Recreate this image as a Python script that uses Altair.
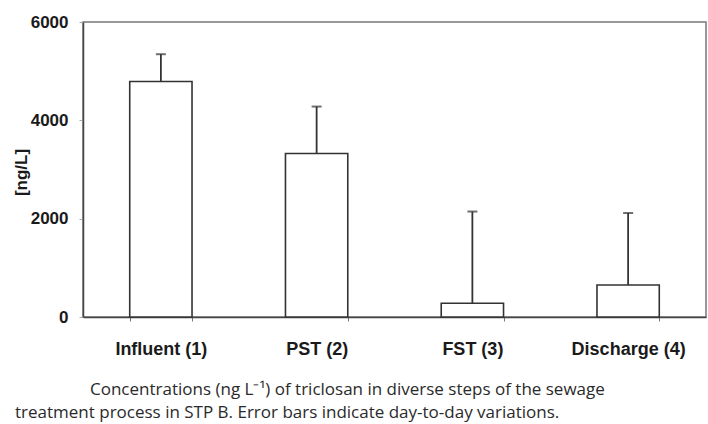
import altair as alt
import pandas as pd

# Triclosan concentrations along the sewage treatment steps (ng/L)
steps = ["Influent (1)", "PST (2)", "FST (3)", "Discharge (4)"]
means = [4790, 3325, 280, 650]
upper = [5345, 4280, 2145, 2115]

caption_1 = "Concentrations (ng L\u207b\u00b9) of triclosan in diverse steps of the sewage"
caption_2 = "treatment process in STP B. Error bars indicate day-to-day variations."

df = pd.DataFrame({"step": steps, "mean": means, "upper": upper})

x_enc = alt.X(
    "step:N",
    sort=steps,
    title=None,
    scale=alt.Scale(paddingInner=0.6, paddingOuter=0.3),
    axis=alt.Axis(
        labelAngle=0,
        labelFont="Liberation Sans",
        labelFontWeight="bold",
        labelFontSize=18,
        labelColor="#1a1a1a",
        labelPadding=19,
        tickBand="extent",
        tickSize=4,
        tickColor="#777",
        domainColor="#444",
        domainWidth=1.5,
    ),
)

y_scale = alt.Scale(domain=[0, 6000], nice=False)
y_axis = alt.Axis(
    values=[0, 2000, 4000, 6000],
    format="d",
    grid=False,
    labelFont="Liberation Sans",
    labelFontWeight="bold",
    labelFontSize=17,
    labelColor="#1a1a1a",
    labelPadding=11,
    tickSize=4,
    tickColor="#aaa",
    domainColor="#444",
    domainWidth=1.5,
    title="[ng/L]",
    titleFont="Liberation Sans",
    titleFontWeight="bold",
    titleFontSize=17,
    titleColor="#1a1a1a",
    titleAngle=-90,
    titleX=-62,
    titleY=150,
    titleAlign="center",
    titleBaseline="middle",
)

base = alt.Chart(df)

bars = base.mark_bar(fill="white", stroke="#333", strokeWidth=1.6).encode(
    x=x_enc,
    y=alt.Y("mean:Q", scale=y_scale, axis=y_axis),
)

whiskers = base.mark_rule(color="#333", strokeWidth=1.8).encode(
    x=alt.X("step:N", sort=steps),
    y=alt.Y("mean:Q"),
    y2="upper:Q",
)

caps = base.mark_tick(color="#333", thickness=2, size=10, orient="horizontal").encode(
    x=alt.X("step:N", sort=steps),
    y=alt.Y("upper:Q"),
)

caption_style = dict(
    align="left",
    baseline="alphabetic",
    font="Open Sans",
    fontSize=17,
    color="#2a2a2a",
)

line_1 = alt.Chart(pd.DataFrame({"t": [caption_1]})).mark_text(**caption_style).encode(
    text="t:N", x=alt.value(7), y=alt.value(373)
)
line_2 = alt.Chart(pd.DataFrame({"t": [caption_2]})).mark_text(**caption_style).encode(
    text="t:N", x=alt.value(-68), y=alt.value(396)
)

chart = (
    alt.layer(bars, whiskers, caps, line_1, line_2)
    .properties(
        width=623,
        height=295,
        autosize=alt.AutoSizeParams(type="none"),
        padding={"left": 83, "top": 22, "right": 2, "bottom": 107},
        background="white",
    )
    .configure_view(stroke="#777", strokeWidth=1.5)
)

chart.save("out.html", embed_options={"renderer": "svg", "actions": False})
